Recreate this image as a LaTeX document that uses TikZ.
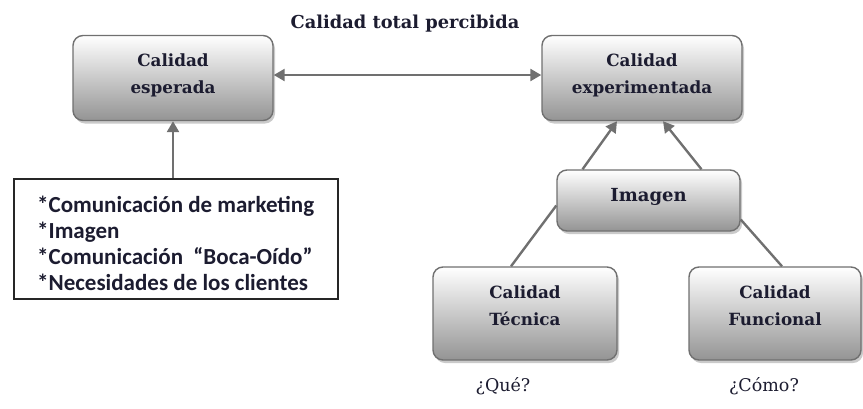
\documentclass[tikz,border=0pt]{standalone}
\usepackage{fontspec}
\setmainfont{DejaVu Serif}
\newfontfamily\listfont{Carlito}
\usetikzlibrary{shadows,arrows.meta,calc}
\definecolor{edgec}{HTML}{707070}
\definecolor{ink}{HTML}{1C1C30}
\begin{document}
\begin{tikzpicture}[x=1pt,y=-1pt,
  qbox/.style={draw=edgec, line width=1.4pt, rounded corners=10pt, top color=white, bottom color=black!42,
    drop shadow={shadow xshift=2pt, shadow yshift=-3pt, opacity=0.35, fill=black!60}, inner sep=0pt},
  lbl/.style={font=\bfseries\fontsize{16.8}{27}\selectfont, text=ink, align=center},
  conn/.style={draw=edgec, line width=2.4pt},
  arr/.style={conn, -{Triangle[length=11pt,width=12pt]}},
  darr/.style={conn, {Triangle[length=11pt,width=12pt]}-{Triangle[length=11pt,width=12pt]}},
  qst/.style={font=\fontsize{17.5}{20}\selectfont, text=ink},
]
\useasboundingbox (0,0) rectangle (863,408);
\node[qbox, minimum width=200pt, minimum height=85pt] (esp) at (173,78) {};
\node[qbox, minimum width=200pt, minimum height=85pt] (exp) at (642,78) {};
\node[qbox, minimum width=183pt, minimum height=61pt] (img) at (648.5,200.5) {};
\node[qbox, minimum width=184pt, minimum height=93pt] (tec) at (525,313.5) {};
\node[qbox, minimum width=172pt, minimum height=93pt] (fun) at (775,313.5) {};
\node[draw=black!85, line width=1.3pt, fill=white, minimum width=324pt, minimum height=120pt, inner sep=0pt] (lst) at (176,239) {};

\node[lbl, font=\bfseries\fontsize{17.8}{20}\selectfont] (ttl) at (405,24) {Calidad total percibida};
\node[lbl] (tesp) at (esp.center) [yshift=3pt] {Calidad\\esperada};
\node[lbl] (texp) at (exp.center) [yshift=3pt] {Calidad\\experimentada};
\node[lbl, font=\bfseries\fontsize{18}{20}\selectfont] (timg) at (img.center) [yshift=4pt] {Imagen};
\node[lbl] (ttec) at (tec.center) [yshift=8pt] {Calidad\\Técnica};
\node[lbl] (tfun) at (fun.center) [yshift=8pt] {Calidad\\Funcional};
\node[font=\listfont\bfseries\fontsize{23}{26}\selectfont, text=ink, align=left, anchor=west, inner sep=0pt] (tlst) at (37,243)
  {*Comunicación de marketing\\*Imagen\\*Comunicación~ “Boca-Oído”\\*Necesidades de los clientes};
\node[qst] (qq) at (503,386) {¿Qué?};
\node[qst] (qc) at (764,386) {¿Cómo?};

\draw[darr] (esp.east |- 0,75) -- (exp.west |- 0,75);
\draw[arr] (esp.south |- lst.north) -- (esp.south);
\draw[arr] ($(img.north)+(-66,0)$) -- ($(exp.south)+(-25,0)$);
\draw[arr] ($(img.north)+(53,0)$) -- ($(exp.south)+(21,0)$);
\draw[conn] ($(tec.north)+(-14,0)$) -- ($(img.west)+(0,5)$);
\draw[conn] ($(fun.north)+(7,0)$) -- ($(img.east)+(0,19)$);
\end{tikzpicture}
\end{document}
